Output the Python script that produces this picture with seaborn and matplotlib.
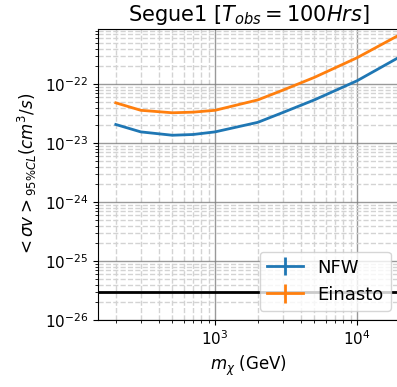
import numpy as np
import pandas as pd
import matplotlib
matplotlib.use('Agg')
import matplotlib.pyplot as plt
import seaborn as sns

# Dark matter mass (GeV) and 95% CL upper limits on <sigma v> (cm^3/s)
mass = [200, 300, 500, 700, 1000, 2000, 3000, 5000, 10000, 20000]
nfw = [2.07e-23, 1.55e-23, 1.36e-23, 1.40e-23, 1.55e-23, 2.25e-23, 3.3e-23,
       5.4e-23, 1.14e-22, 2.9e-22]
einasto = [4.82e-23, 3.6e-23, 3.27e-23, 3.35e-23, 3.6e-23, 5.4e-23, 7.9e-23,
           1.3e-22, 2.8e-22, 6.9e-22]
thermal_relic = 3e-26

df = pd.DataFrame({
    'mass': mass * 2,
    'sigmav': nfw + einasto,
    'profile': ['NFW'] * len(mass) + ['Einasto'] * len(mass),
})

colors = {'NFW': '#1f77b4', 'Einasto': '#ff7f0e'}

fig = plt.figure(figsize=(3.97, 3.87), dpi=100)
ax = fig.add_axes([0.247, 0.173, 0.76, 0.752])

sns.lineplot(data=df, x='mass', y='sigmav', hue='profile', palette=colors,
             linewidth=2, ax=ax, legend=False)
ax.axhline(thermal_relic, color='black', linewidth=2)

ax.set_xscale('log')
ax.set_yscale('log')
ax.set_xlim(150, 20000)
ax.set_ylim(1e-26, 8.6e-22)

ax.grid(True, which='major', color='gray', linestyle='-', linewidth=1, alpha=0.8)
ax.grid(True, which='minor', color='lightgray', linestyle='--', linewidth=1)

ax.set_title(r'Segue1 [$T_{obs}=100Hrs$]', fontsize=15)
ax.set_xlabel(r'$m_\chi$ (GeV)', fontsize=12)
ax.set_ylabel(r'$<\sigma v>_{95\%CL} (cm^3/s)$', fontsize=12)
ax.tick_params(labelsize=11)

# legend with errorbar-style handles
handles = []
for name in ['NFW', 'Einasto']:
    h = ax.errorbar([np.nan], [np.nan], yerr=[np.nan], color=colors[name],
                    linewidth=2, label=name)
    handles.append(h)
ax.legend(handles=handles, labels=['NFW', 'Einasto'], loc='lower right', fontsize=13)

plt.savefig('out.png', dpi=100)
